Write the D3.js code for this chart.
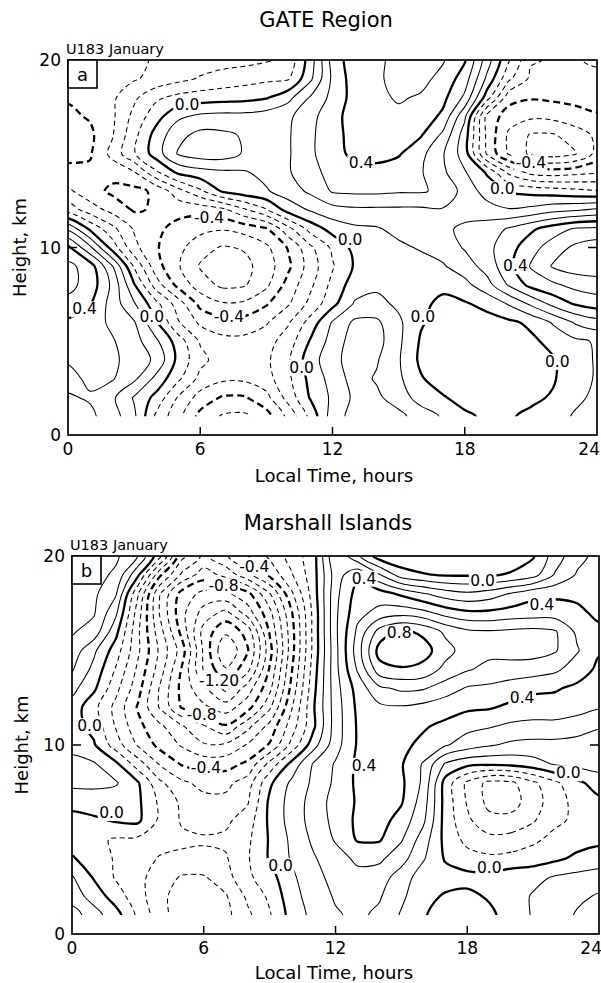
<!DOCTYPE html>
<html><head><meta charset="utf-8">
<script src="https://cdn.jsdelivr.net/npm/d3@7"></script>
<style>
body{margin:0;background:#fff}
svg{display:block}
text{font-family:"DejaVu Sans",sans-serif;fill:#000}
</style>
</head><body>
<svg id="c" width="601" height="983"></svg>
<script>
// ---------------- data ----------------
const hours = d3.range(0, 25);            // local time columns (h)
const heightsKm = d3.range(20, 0, -1);    // rows, top (20 km) to bottom (1 km)
const timeTicks = [0, 6, 12, 18, 24];
const heightTicks = [0, 10, 20];
const levels = d3.range(-14, 10).map(k => k / 10);

// GATE Region (panel a), rows h = 20 ... 1, columns t = 0 ... 24
const gateRows = [
 [-0.35,-0.35,-0.34,-0.32,-0.29,-0.27,-0.25,-0.24,-0.23,-0.21,-0.17,0.05,0.34,0.46,0.48,0.53,0.55,0.51,0.41,0.15,-0.09,-0.29,-0.31,-0.31,-0.28],
 [-0.37,-0.37,-0.35,-0.31,-0.27,-0.23,-0.19,-0.16,-0.14,-0.12,-0.11,0.08,0.32,0.45,0.49,0.52,0.53,0.47,0.35,0.08,-0.18,-0.32,-0.35,-0.34,-0.33],
 [-0.39,-0.38,-0.32,-0.22,-0.12,-0.07,-0.05,-0.04,-0.03,-0.01,0.07,0.21,0.33,0.44,0.48,0.51,0.49,0.43,0.28,-0.05,-0.36,-0.39,-0.38,-0.37,-0.36],
 [-0.42,-0.39,-0.32,-0.17,-0.04,0.08,0.12,0.13,0.13,0.15,0.18,0.27,0.36,0.45,0.47,0.48,0.46,0.38,0.12,-0.33,-0.45,-0.48,-0.47,-0.44,-0.41],
 [-0.44,-0.42,-0.31,-0.13,0.04,0.17,0.23,0.22,0.19,0.18,0.19,0.28,0.37,0.43,0.46,0.45,0.41,0.28,0.05,-0.32,-0.52,-0.61,-0.61,-0.55,-0.48],
 [-0.43,-0.41,-0.27,-0.11,0.05,0.21,0.25,0.25,0.19,0.17,0.19,0.28,0.37,0.42,0.43,0.41,0.33,0.21,0.05,-0.31,-0.51,-0.62,-0.65,-0.61,-0.47],
 [-0.37,-0.38,-0.37,-0.31,-0.12,0.02,0.06,0.08,0.09,0.13,0.19,0.27,0.33,0.37,0.37,0.35,0.31,0.22,0.11,-0.01,-0.22,-0.33,-0.35,-0.33,-0.31],
 [-0.28,-0.36,-0.42,-0.43,-0.38,-0.24,-0.12,0.01,0.06,0.09,0.15,0.22,0.31,0.32,0.32,0.31,0.31,0.28,0.16,0.06,-0.01,-0.03,-0.05,-0.07,-0.09],
 [-0.14,-0.25,-0.33,-0.41,-0.39,-0.37,-0.37,-0.33,-0.22,-0.11,0.04,0.11,0.16,0.18,0.18,0.18,0.18,0.19,0.18,0.14,0.11,0.13,0.17,0.19,0.22],
 [0.18,-0.02,-0.17,-0.31,-0.38,-0.43,-0.47,-0.49,-0.46,-0.41,-0.23,-0.06,0.04,0.08,0.09,0.13,0.17,0.19,0.21,0.25,0.31,0.38,0.45,0.51,0.52],
 [0.42,0.22,-0.04,-0.27,-0.39,-0.47,-0.56,-0.61,-0.59,-0.52,-0.39,-0.22,-0.08,0.03,0.06,0.08,0.11,0.14,0.21,0.27,0.36,0.46,0.55,0.62,0.66],
 [0.53,0.45,0.21,-0.11,-0.36,-0.49,-0.61,-0.65,-0.63,-0.55,-0.42,-0.25,-0.11,0.01,0.04,0.05,0.06,0.09,0.15,0.24,0.37,0.51,0.61,0.65,0.66],
 [0.53,0.46,0.28,0.01,-0.25,-0.43,-0.55,-0.62,-0.61,-0.52,-0.36,-0.22,-0.07,0.05,0.08,0.07,0.04,0.02,0.07,0.16,0.31,0.43,0.48,0.53,0.55],
 [0.47,0.41,0.26,0.11,-0.07,-0.25,-0.43,-0.49,-0.48,-0.41,-0.31,-0.17,-0.03,0.11,0.13,0.08,0.02,-0.02,-0.01,0.03,0.11,0.22,0.33,0.41,0.45],
 [0.38,0.35,0.28,0.21,0.01,-0.19,-0.32,-0.36,-0.36,-0.31,-0.21,-0.06,0.11,0.22,0.22,0.12,0.01,-0.04,-0.05,-0.04,-0.02,0.02,0.11,0.21,0.26],
 [0.36,0.34,0.31,0.24,0.12,-0.05,-0.21,-0.27,-0.27,-0.24,-0.15,0.01,0.14,0.25,0.24,0.12,-0.01,-0.05,-0.06,-0.06,-0.05,-0.02,0.03,0.08,0.11],
 [0.31,0.34,0.32,0.26,0.18,-0.03,-0.17,-0.25,-0.26,-0.22,-0.11,0.06,0.16,0.26,0.21,0.11,-0.02,-0.05,-0.07,-0.07,-0.06,-0.04,-0.01,0.06,0.11],
 [0.27,0.32,0.31,0.22,0.07,-0.08,-0.23,-0.28,-0.28,-0.24,-0.12,0.03,0.14,0.24,0.19,0.12,0.01,-0.05,-0.07,-0.07,-0.06,-0.03,-0.01,0.06,0.11],
 [0.31,0.29,0.22,0.09,-0.03,-0.21,-0.34,-0.41,-0.41,-0.33,-0.16,0.01,0.12,0.22,0.22,0.15,0.06,0.01,-0.04,-0.05,-0.04,-0.02,0.01,0.08,0.12],
 [0.34,0.32,0.25,0.12,-0.12,-0.27,-0.43,-0.51,-0.52,-0.44,-0.27,-0.07,0.15,0.24,0.26,0.23,0.15,0.09,0.02,-0.02,-0.01,0.02,0.06,0.11,0.13]
];

// Marshall Islands (panel b), rows h = 20 ... 1, columns t = 0 ... 24
const marshallRows = [
 [0.35,0.35,0.32,0.20,-0.07,-0.47,-0.62,-0.51,-0.41,-0.28,-0.16,-0.04,0.30,0.12,-0.05,-0.08,-0.09,-0.09,-0.08,-0.07,-0.05,-0.01,0.15,0.27,0.33],
 [0.35,0.34,0.28,0.02,-0.38,-0.62,-0.75,-0.67,-0.53,-0.38,-0.21,-0.04,0.25,0.38,0.21,0.05,0.01,-0.01,-0.01,-0.01,0.01,0.06,0.21,0.31,0.35],
 [0.34,0.32,0.21,-0.19,-0.60,-0.84,-0.93,-0.92,-0.83,-0.61,-0.32,-0.05,0.27,0.44,0.45,0.38,0.31,0.25,0.22,0.25,0.31,0.37,0.38,0.38,0.37],
 [0.32,0.31,0.12,-0.25,-0.61,-0.87,-1.04,-1.13,-0.95,-0.73,-0.41,-0.07,0.28,0.47,0.53,0.56,0.53,0.46,0.42,0.42,0.44,0.45,0.45,0.42,0.38],
 [0.31,0.26,0.03,-0.28,-0.56,-0.83,-1.14,-1.28,-1.16,-0.79,-0.44,-0.07,0.28,0.52,0.74,0.82,0.78,0.68,0.62,0.61,0.62,0.63,0.61,0.48,0.42],
 [0.26,0.12,-0.05,-0.28,-0.52,-0.75,-1.12,-1.40,-1.21,-0.84,-0.44,-0.07,0.27,0.55,0.84,0.87,0.84,0.74,0.65,0.63,0.64,0.64,0.61,0.51,0.41],
 [0.21,0.07,-0.11,-0.32,-0.55,-0.81,-1.11,-1.29,-1.13,-0.79,-0.41,-0.05,0.27,0.51,0.76,0.79,0.77,0.67,0.61,0.57,0.56,0.55,0.52,0.45,0.38],
 [0.13,0.02,-0.17,-0.36,-0.61,-0.83,-0.98,-1.13,-0.95,-0.73,-0.37,-0.03,0.26,0.44,0.58,0.62,0.61,0.55,0.49,0.48,0.45,0.42,0.41,0.38,0.36],
 [0.06,-0.07,-0.23,-0.41,-0.61,-0.81,-0.88,-0.95,-0.84,-0.62,-0.31,-0.01,0.25,0.42,0.48,0.49,0.47,0.44,0.42,0.41,0.38,0.36,0.36,0.34,0.31],
 [0.04,-0.03,-0.21,-0.37,-0.48,-0.59,-0.69,-0.79,-0.63,-0.47,-0.25,-0.02,0.25,0.41,0.43,0.43,0.41,0.38,0.33,0.31,0.28,0.27,0.27,0.25,0.21],
 [0.08,0.01,-0.15,-0.31,-0.43,-0.51,-0.59,-0.58,-0.49,-0.39,-0.17,0.06,0.26,0.41,0.42,0.42,0.38,0.31,0.25,0.21,0.18,0.17,0.17,0.16,0.15],
 [0.12,0.11,0.02,-0.15,-0.31,-0.41,-0.44,-0.44,-0.38,-0.17,0.03,0.21,0.31,0.42,0.44,0.41,0.29,0.09,0.03,0.02,0.03,0.06,0.11,0.13,0.15],
 [0.12,0.12,0.11,0.01,-0.18,-0.28,-0.33,-0.33,-0.25,-0.02,0.12,0.22,0.32,0.42,0.45,0.42,0.28,-0.04,-0.22,-0.33,-0.32,-0.22,-0.12,-0.02,0.04],
 [0.05,0.06,0.05,0.02,-0.12,-0.22,-0.27,-0.27,-0.21,0.02,0.14,0.24,0.34,0.41,0.44,0.41,0.25,-0.04,-0.21,-0.33,-0.34,-0.25,-0.14,-0.07,-0.02],
 [-0.05,-0.02,0.01,0.02,-0.12,-0.21,-0.23,-0.22,-0.15,0.02,0.14,0.24,0.33,0.42,0.44,0.36,0.22,-0.04,-0.18,-0.27,-0.27,-0.21,-0.12,-0.08,-0.05],
 [-0.05,-0.08,-0.11,-0.12,-0.15,-0.18,-0.19,-0.18,-0.12,0.01,0.12,0.22,0.31,0.41,0.41,0.31,0.15,-0.03,-0.13,-0.17,-0.16,-0.12,-0.07,-0.04,-0.02],
 [0.01,-0.05,-0.11,-0.14,-0.21,-0.22,-0.22,-0.21,-0.11,0.01,0.11,0.19,0.26,0.32,0.32,0.24,0.11,-0.01,-0.06,-0.08,-0.07,-0.05,-0.02,0.02,0.04],
 [0.11,-0.01,-0.11,-0.17,-0.25,-0.31,-0.31,-0.24,-0.12,-0.04,0.08,0.17,0.23,0.27,0.25,0.15,0.05,0.04,0.03,0.03,0.06,0.07,0.11,0.13,0.15],
 [0.15,0.06,-0.05,-0.16,-0.27,-0.35,-0.36,-0.31,-0.18,-0.08,0.06,0.15,0.21,0.24,0.21,0.12,0.03,-0.01,-0.02,0.01,0.05,0.11,0.14,0.18,0.21],
 [0.25,0.14,0.04,-0.12,-0.26,-0.36,-0.38,-0.33,-0.22,-0.11,0.04,0.13,0.19,0.22,0.18,0.09,0.01,-0.05,-0.06,-0.02,0.04,0.11,0.15,0.21,0.22]
];

// contour labels (local time, height, text)
const gateLabels = [
 {t:5.4,h:17.6,text:"0.0"},{t:13.3,h:14.5,text:"0.4"},{t:21.0,h:14.5,text:"-0.4"},
 {t:19.7,h:13.1,text:"0.0"},{t:6.4,h:11.6,text:"-0.4"},{t:12.8,h:10.4,text:"0.0"},
 {t:20.3,h:9.0,text:"0.4"},{t:0.75,h:6.7,text:"0.4"},{t:3.8,h:6.3,text:"0.0"},
 {t:7.3,h:6.3,text:"-0.4"},{t:16.1,h:6.3,text:"0.0"},{t:10.6,h:3.6,text:"0.0"},
 {t:22.2,h:3.9,text:"0.0"}
];
const marshallLabels = [
 {t:8.3,h:19.4,text:"-0.4"},{t:6.9,h:18.4,text:"-0.8"},{t:6.7,h:13.4,text:"-1.20"},
 {t:5.9,h:11.6,text:"-0.8"},{t:6.1,h:8.8,text:"-0.4"},{t:0.8,h:11.0,text:"0.0"},
 {t:1.8,h:6.4,text:"0.0"},{t:9.5,h:3.6,text:"0.0"},{t:13.3,h:18.8,text:"0.4"},
 {t:18.7,h:18.7,text:"0.0"},{t:21.4,h:17.4,text:"0.4"},{t:14.9,h:15.9,text:"0.8"},
 {t:20.5,h:12.5,text:"0.4"},{t:13.3,h:8.9,text:"0.4"},{t:22.6,h:8.5,text:"0.0"},
 {t:19.0,h:3.5,text:"0.0"}
];

// ---------------- drawing ----------------
const svg = d3.select("#c");
svg.append("rect").attr("width",601).attr("height",983).attr("fill","#fff");

function drawPanel(o) {
  const g = svg.append("g");
  const x = d3.scaleLinear().domain([0, 24]).range([o.left, o.right]);
  const y = d3.scaleLinear().domain([0, 20]).range([o.bottom, o.top]);

  // padded grid (edge values repeated) so open contours leave the frame cleanly
  const nx = hours.length, ny = heightsKm.length, W = nx + 2, H = ny + 2;
  const flat = [];
  for (let j = 0; j < H; j++) for (let i = 0; i < W; i++) {
    const r = Math.min(ny - 1, Math.max(0, j - 1)), c = Math.min(nx - 1, Math.max(0, i - 1));
    flat.push(o.rows[r][c]);
  }
  const dt = hours[1] - hours[0], dh = heightsKm[1] - heightsKm[0];
  const toT = cx => hours[0] + (cx - 1.5) * dt;
  const toH = cy => heightsKm[0] + (cy - 1.5) * dh;
  const eps = 1e-4;
  const contours = d3.contours().size([W, H]).thresholds(levels.map(v => v + eps))(flat);

  const clipId = "clip" + o.id;
  svg.append("clipPath").attr("id", clipId).append("rect")
    .attr("x", x(0)).attr("y", y(20))
    .attr("width", x(24) - x(0)).attr("height", y(heightsKm[ny - 1]) - y(20));

  const line = d3.line().curve(d3.curveCatmullRomClosed.alpha(0.5));
  const cg = g.append("g").attr("clip-path", `url(#${clipId})`);
  contours.forEach(c => {
    const k = Math.round((c.value - eps) * 10);
    const thick = k % 4 === 0;
    const neg = k < 0;
    c.coordinates.forEach(poly => poly.forEach(ring => {
      const pts = ring.slice(0, -1).map(p => [x(toT(p[0])), y(toH(p[1]))]);
      if (pts.length < 3) return;
      cg.append("path").attr("d", line(pts))
        .attr("fill", "none").attr("stroke", "#000")
        .attr("stroke-width", thick ? 2.3 : 1.05)
        .attr("stroke-linejoin", "round")
        .attr("stroke-dasharray", neg ? (thick ? "7,4" : "5,3.5") : null);
    }));
  });

  // contour labels with white background
  o.labels.forEach(l => {
    const t = g.append("text").attr("x", x(l.t)).attr("y", y(l.h))
      .attr("text-anchor", "middle").attr("dominant-baseline", "central")
      .attr("font-size", 15.5).text(l.text);
    const b = t.node().getBBox();
    g.insert("rect", () => t.node()).attr("x", b.x - 1.5).attr("y", b.y + 1)
      .attr("width", b.width + 3).attr("height", b.height - 2).attr("fill", "#fff");
  });

  // frame
  g.append("rect").attr("x", x(0)).attr("y", y(20))
    .attr("width", x(24) - x(0)).attr("height", y(0) - y(20))
    .attr("fill", "none").attr("stroke", "#000").attr("stroke-width", 1.7);

  // inward ticks
  timeTicks.filter(v => v > 0 && v < 24).forEach(v => {
    g.append("line").attr("x1", x(v)).attr("x2", x(v)).attr("y1", y(0)).attr("y2", y(0) - 8)
      .attr("stroke", "#000").attr("stroke-width", 1.5);
  });
  heightTicks.filter(v => v > 0 && v < 20).forEach(v => {
    g.append("line").attr("x1", x(0)).attr("x2", x(0) + 9).attr("y1", y(v)).attr("y2", y(v))
      .attr("stroke", "#000").attr("stroke-width", 1.5);
    g.append("line").attr("x1", x(24) - 9).attr("x2", x(24)).attr("y1", y(v)).attr("y2", y(v))
      .attr("stroke", "#000").attr("stroke-width", 1.5);
  });

  // tick labels
  timeTicks.forEach(v => {
    g.append("text").attr("x", v === 24 ? x(v) + 3 : x(v)).attr("y", y(0) + 20)
      .attr("text-anchor", v === 24 ? "end" : "middle").attr("font-size", 17).text(v);
  });
  heightTicks.forEach(v => {
    g.append("text").attr("x", x(0) - 7).attr("y", y(v)).attr("dominant-baseline", "central")
      .attr("text-anchor", "end").attr("font-size", 17).text(v);
  });

  // axis titles
  g.append("text").attr("x", 334).attr("y", y(0) + o.xTitleDy).attr("text-anchor", "middle")
    .attr("font-size", 18).text("Local Time, hours");
  g.append("text").attr("transform", `translate(${o.yTitleX},${(y(0) + y(20)) / 2}) rotate(-90)`)
    .attr("text-anchor", "middle").attr("dominant-baseline", "central")
    .attr("font-size", 18).text("Height, km");

  // panel title, run id, letter box
  g.append("text").attr("x", o.titleX).attr("y", o.titleY).attr("text-anchor", "middle")
    .attr("font-size", 21).text(o.title);
  g.append("text").attr("x", x(0) - 2).attr("y", y(20) - 6).attr("font-size", 14.5).text("U183 January");
  g.append("rect").attr("x", x(0)).attr("y", y(20)).attr("width", 29).attr("height", 28)
    .attr("fill", "#fff").attr("stroke", "#000").attr("stroke-width", 1.6);
  g.append("text").attr("x", x(0) + 14.5).attr("y", y(20) + 14).attr("text-anchor", "middle")
    .attr("dominant-baseline", "central").attr("font-size", 18).text(o.letter);
}

drawPanel({id: "a", rows: gateRows, labels: gateLabels, left: 68, right: 597, top: 60, bottom: 435,
  title: "GATE Region", titleX: 326, titleY: 27, letter: "a", xTitleDy: 47, yTitleX: 19});
drawPanel({id: "b", rows: marshallRows, labels: marshallLabels, left: 72, right: 599, top: 556, bottom: 934,
  title: "Marshall Islands", titleX: 328, titleY: 530, letter: "b", xTitleDy: 45, yTitleX: 21});
</script>
</body></html>
